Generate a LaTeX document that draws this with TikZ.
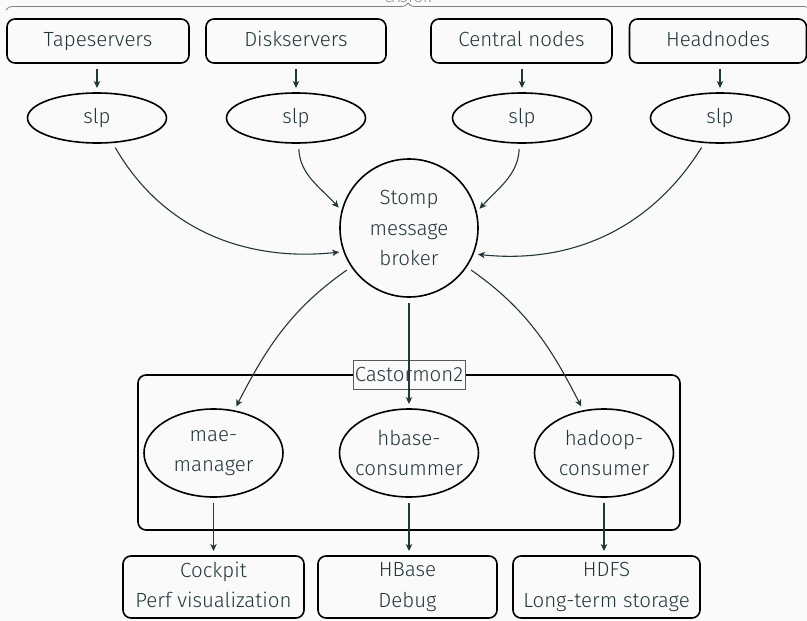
\documentclass[tikz,border=0pt]{standalone}
\usepackage{fontspec}
\setmainfont{Fira Sans}[UprightFont={* Light}]
\usetikzlibrary{arrows.meta,shapes.geometric,decorations.pathreplacing,calc}
\definecolor{mteal}{HTML}{23373B}
\definecolor{bgc}{HTML}{FAFAFA}
\newcommand{\gstrut}{\vphantom{g}}
\begin{document}
\begin{tikzpicture}[x=1pt,y=1pt,
  every node/.style={text=mteal, font=\fontsize{20.5}{30.5}\selectfont, inner sep=0pt, outer sep=0pt},
  sbox/.style={draw=black, line width=1.6pt, rounded corners=8pt, align=center},
  topbox/.style={sbox, minimum height=44pt, text height=15pt, text depth=5pt},
  ell/.style={ellipse, draw=black, line width=1.6pt, minimum width=139pt, minimum height=50pt},
  txt/.style={align=center},
  arr/.style={draw=mteal, line width=1.1pt, -{Stealth[length=7pt,width=6.5pt,inset=2pt]}, shorten <=6pt, shorten >=5pt},
]
\fill[bgc] (0,0) rectangle (807,-621);
\useasboundingbox (0,0) rectangle (807,-621);

% brace and (clipped) title
\draw[decorate, decoration={brace, amplitude=7pt}, draw=gray, line width=0.8pt] (6,-10) -- (810,-10);
\node[anchor=south, text=gray, font=\fontsize{14}{16}\selectfont] (castor) at (408,-3) {CASTOR};

% top boxes
\node[topbox, minimum width=182pt] (tape) at (98,-41) {Tapeservers};
\node[topbox, minimum width=180pt] (disk) at (296,-41) {Diskservers};
\node[topbox, minimum width=181pt] (central) at (521.5,-41) {Central nodes};
\node[topbox, minimum width=177pt] (head) at (718,-41) {Headnodes};

% slp ellipses
\node[ell] (slp1) at (97,-118) {};
\node[txt] (slp1t) at (slp1.center) {slp};
\node[ell] (slp2) at (296,-118) {};
\node[txt] (slp2t) at (slp2.center) {slp};
\node[ell] (slp3) at (522,-118) {};
\node[txt] (slp3t) at (slp3.center) {slp};
\node[ell] (slp4) at (720,-118) {};
\node[txt] (slp4t) at (slp4.center) {slp};

% broker
\node[circle, draw=black, line width=1.6pt, minimum size=138pt] (stomp) at (409,-228) {};
\node[txt] (stompt) at (stomp.center) {Stomp\\message\\broker};

% Castormon2 group
\draw[draw=black, line width=1.6pt, rounded corners=8pt] (138,-375) rectangle (680,-530);
\node[draw=gray!70!black, line width=0.6pt, fill=bgc, minimum width=112pt, minimum height=29pt] (lab) at (409,-374.5) {Castormon2};

\node[ell, minimum height=88pt] (mae) at (213.5,-453) {};
\node[txt] (maet) at (mae.center) {mae-\\manager};
\node[ell, minimum height=88pt] (hbase) at (409,-453) {};
\node[txt] (hbaset) at (hbase.center) {hbase-\\consummer};
\node[ell, minimum height=88pt] (hadoop) at (604,-453) {};
\node[txt] (hadoopt) at (hadoop.center) {hadoop-\\consumer};

% bottom boxes
\node[sbox, minimum width=181pt, minimum height=62pt] (cockpit) at (213.5,-587) {Cockpit\\Perf visualization\gstrut};
\node[sbox, minimum width=179pt, minimum height=62pt] (hbox) at (407.5,-587) {HBase\\Debug\gstrut};
\node[sbox, minimum width=187pt, minimum height=62pt] (hdfs) at (606.5,-587) {HDFS\\Long-term storage\gstrut};

% arrows top
\draw[arr] (slp1.north |- tape.south) -- (slp1.north);
\draw[arr] (disk.south) -- (slp2.north);
\draw[arr] (central.south -| slp3.north) -- (slp3.north);
\draw[arr] (slp4.north |- head.south) -- (slp4.north);

% slp to broker
\draw[arr] (slp1.-58) to[out=-60, in=186] (stomp.200);
\draw[arr] (slp2.-84) to[out=-88, in=132] (stomp.166);
\draw[arr] (slp3.-96) to[out=-92, in=48] (stomp.13);
\draw[arr] (slp4.-122) to[out=-122, in=-6] (stomp.-22);

% broker to consumers
\draw[arr] (stomp.214) to[out=-145, in=63] (mae.64);
\draw[arr] (stomp.south) -- (hbase.north);
\draw[arr] (stomp.-34) to[out=-35, in=117] (hadoop.116);

% consumers to stores
\draw[arr] (mae.south) -- (mae.south |- cockpit.north);
\draw[arr] (hbase.south) -- (hbase.south |- hbox.north);
\draw[arr] (hadoop.south) -- (hadoop.south |- hdfs.north);
\end{tikzpicture}
\end{document}
